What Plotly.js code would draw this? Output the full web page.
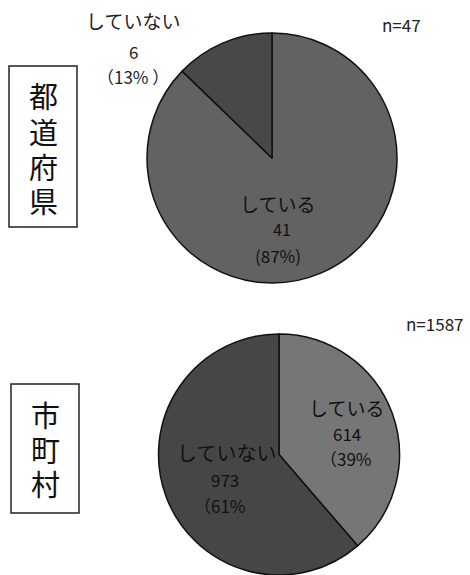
<!DOCTYPE html>
<html>
<head>
<meta charset="utf-8">
<script src="https://cdn.plot.ly/plotly-3.0.1.min.js"></script>
<style>html,body{margin:0;padding:0;background:#fff;}#chart{width:470px;height:575px;}</style>
</head>
<body>
<div id="chart"></div>
<script>
var categories = ["している", "していない"];
var prefValues = [41, 6];
var muniValues = [614, 973];
var groupLabels = ["都道府県", "市町村"];
var nLabels = ["n=47", "n=1587"];
var prefColors = ["#626262", "#484848"];
var muniColors = ["#767676", "#464646"];

var FONT = "Noto Sans CJK JP, sans-serif";
var VFONT = "Liberation Sans, Noto Sans CJK JP, sans-serif";

function pct(v, arr) {
  var s = arr.reduce(function (a, b) { return a + b; }, 0);
  return Math.round(v / s * 100);
}

var traces = [
  {
    type: "pie", labels: categories, values: prefValues, sort: false,
    direction: "clockwise", rotation: 0, textinfo: "none", hoverinfo: "none",
    marker: { colors: prefColors, line: { color: "#111", width: 1.5 } },
    domain: { x: [0.3128, 0.8447], y: [0.5078, 0.9426] }, showlegend: false
  },
  {
    type: "pie", labels: categories, values: muniValues, sort: false,
    direction: "clockwise", rotation: 0, textinfo: "none", hoverinfo: "none",
    marker: { colors: muniColors, line: { color: "#111", width: 1.5 } },
    domain: { x: [0.3298, 0.8574], y: [0.0, 0.4191] }, showlegend: false
  }
];

function f(size, color, fam) { return { size: size, color: color || "#111", family: fam || FONT }; }

var ann = [
  // top pie
  { x: 133, y: 20, text: categories[1], font: f(19, "#222") },
  { x: 133, y: 52, text: String(prefValues[1]), font: f(17, "#222") },
  { x: 133, y: 76, text: "（" + pct(prefValues[1], prefValues) + "% ）", font: f(17, "#222") },
  { x: 277, y: 203, text: categories[0], font: f(19) },
  { x: 282, y: 229, text: String(prefValues[0]), font: f(16) },
  { x: 278, y: 256, text: "(" + pct(prefValues[0], prefValues) + "%)", font: f(17) },
  { x: 401, y: 25, text: nLabels[0], font: f(17, "#222") },
  // bottom pie
  { x: 346, y: 408, text: categories[0], font: f(19) },
  { x: 347, y: 433, text: String(muniValues[0]), font: f(17) },
  { x: 346, y: 458, text: "（" + pct(muniValues[0], muniValues) + "%", font: f(17) },
  { x: 226, y: 452, text: categories[1], font: f(20) },
  { x: 225, y: 479, text: String(muniValues[1]), font: f(17) },
  { x: 220, y: 505, text: "（" + pct(muniValues[1], muniValues) + "%", font: f(17) },
  { x: 435, y: 323, text: nLabels[1], font: f(17, "#222") }
];

// vertical group labels, one character per line
var prefY = [98, 134, 169, 203];
groupLabels[0].split("").forEach(function (ch, i) {
  ann.push({ x: 43, y: prefY[i], text: ch, font: f(29, "#111", VFONT) });
});
var muniY = [417, 452, 486];
groupLabels[1].split("").forEach(function (ch, i) {
  ann.push({ x: 45, y: muniY[i], text: ch, font: f(29, "#111", VFONT) });
});

var annotations = ann.map(function (a) {
  return {
    xref: "paper", yref: "paper", x: a.x / 470, y: 1 - a.y / 575,
    xanchor: "center", yanchor: "middle", showarrow: false, text: a.text, font: a.font
  };
});

var shapes = [
  { type: "rect", xref: "paper", yref: "paper", x0: 9 / 470, x1: 77 / 470, y0: 1 - 227 / 575, y1: 1 - 66 / 575, line: { color: "#222", width: 1.5 } },
  { type: "rect", xref: "paper", yref: "paper", x0: 11 / 470, x1: 79 / 470, y0: 1 - 513 / 575, y1: 1 - 384 / 575, line: { color: "#222", width: 1.5 } }
];

var layout = {
  width: 470, height: 575,
  margin: { l: 0, r: 0, t: 0, b: 0 },
  paper_bgcolor: "#fff", plot_bgcolor: "#fff",
  showlegend: false,
  annotations: annotations, shapes: shapes,
  font: { family: FONT }
};

Plotly.newPlot("chart", traces, layout, { displayModeBar: false, staticPlot: true });
</script>
</body>
</html>
